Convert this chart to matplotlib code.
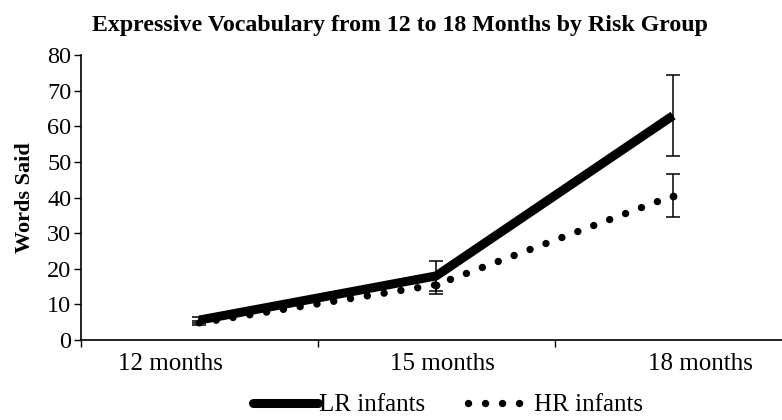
import numpy as np
import matplotlib.pyplot as plt
from matplotlib.lines import Line2D
from matplotlib.transforms import ScaledTranslation

months = ['12 months', '15 months', '18 months']
lr_mean = [5.6, 18.0, 63.0]
lr_err = [0.8, 4.3, 11.4]
hr_mean = [4.8, 15.5, 40.5]
hr_err = [0.6, 2.5, 6.0]
yticks = [0, 10, 20, 30, 40, 50, 60, 70, 80]

plt.rcParams['font.family'] = ['Liberation Serif', 'DejaVu Serif']
fs = 18

fig = plt.figure(figsize=(7.82, 4.2), dpi=100)
ax = fig.add_axes([81/782, 80/420, 1 - 81/782, 285/420])
x = np.arange(len(months))

ax.errorbar(x, lr_mean, yerr=lr_err, fmt='none', ecolor='black', elinewidth=1.1,
            capsize=5, capthick=1.1, zorder=2)
ax.errorbar(x, hr_mean, yerr=hr_err, fmt='none', ecolor='black', elinewidth=1.1,
            capsize=5, capthick=1.1, zorder=2)
dots = (0, (0.01, 2.3))
ax.plot(x, lr_mean, color='black', lw=6.5, solid_capstyle='butt', zorder=3)
ax.plot(x, hr_mean, color='black', lw=5.3, linestyle=dots,
        dash_capstyle='round', zorder=3)
ax.plot(x[1:], hr_mean[1:], 'o', color='black', ms=5.6, mew=0, zorder=3)

ax.set_xlim(-0.5, 2.46)
ax.set_ylim(0, 80)
ax.set_yticks(yticks)
ax.set_xticks(x)
ax.set_xticklabels(months)
ax.set_xticks([-0.5, 0.5, 1.5], minor=True)
ax.tick_params(axis='x', which='major', length=0, pad=9, labelsize=fs)
ax.tick_params(axis='x', which='minor', length=5, direction='out', width=1)
ax.tick_params(axis='y', length=5, width=1, labelsize=17.5, pad=2)
# label offsets as in the original layout
for lab, dx in zip(ax.get_xticklabels(), [-29, 6, 27]):
    lab.set_transform(lab.get_transform() + ScaledTranslation(dx / 100, 0, fig.dpi_scale_trans))
for s in ['top', 'right']:
    ax.spines[s].set_visible(False)
for s in ['left', 'bottom']:
    ax.spines[s].set_linewidth(1.2)
ax.set_ylabel('Words Said', fontsize=16, fontweight='bold', labelpad=9)
fig.suptitle('Expressive Vocabulary from 12 to 18 Months by Risk Group',
             fontsize=17.2, fontweight='bold', x=0.512, y=0.965)

handles = [Line2D([], [], color='black', lw=6.5, solid_capstyle='round'),
           Line2D([], [], color='black', lw=5.3, linestyle=dots,
                  dash_capstyle='round')]
fig.legend(handles, ['LR infants', 'HR infants'], loc='lower center',
           bbox_to_anchor=(0.573, -0.045), ncol=2, frameon=False, fontsize=18,
           handlelength=2.6, handletextpad=0.05, columnspacing=1.7)

fig.savefig('out.png', dpi=100)
